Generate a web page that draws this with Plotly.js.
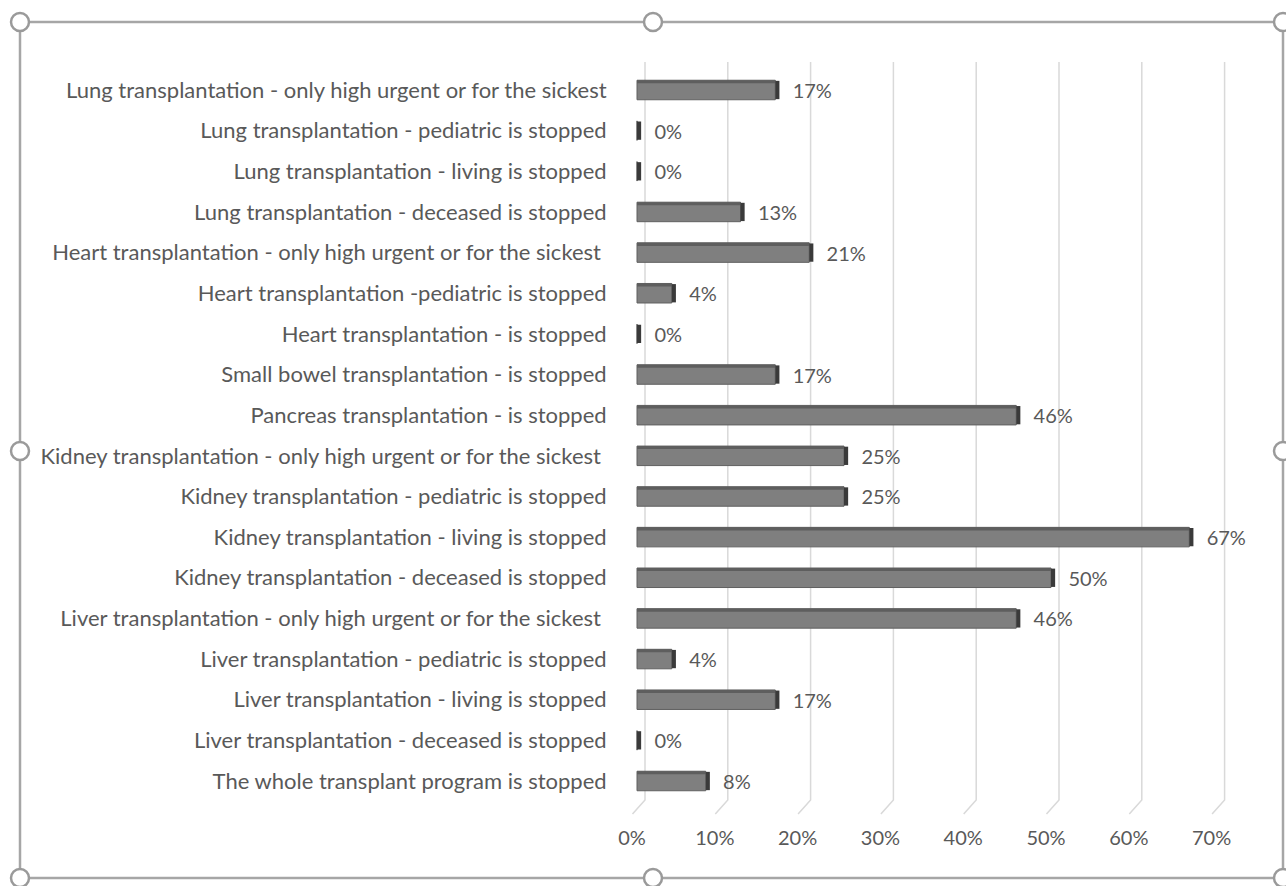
<!DOCTYPE html>
<html>
<head>
<meta charset="utf-8">
<script src="https://cdn.plot.ly/plotly-3.0.1.min.js"></script>
<style>html,body{margin:0;padding:0;background:#fff;}#chart{width:1286px;height:886px;}</style>
</head>
<body>
<div id="chart"></div>
<script>
// ---- data (top row first) ----
const categories = [
  "Lung transplantation - only high urgent or for the sickest",
  "Lung transplantation - pediatric is stopped",
  "Lung transplantation - living is stopped",
  "Lung transplantation - deceased is stopped",
  "Heart transplantation - only high urgent or for the sickest ",
  "Heart transplantation -pediatric is stopped",
  "Heart transplantation - is stopped",
  "Small bowel transplantation - is stopped",
  "Pancreas transplantation - is stopped",
  "Kidney transplantation - only high urgent or for the sickest ",
  "Kidney transplantation - pediatric is stopped",
  "Kidney transplantation - living is stopped",
  "Kidney transplantation - deceased is stopped",
  "Liver transplantation - only high urgent or for the sickest ",
  "Liver transplantation - pediatric is stopped",
  "Liver transplantation - living is stopped",
  "Liver transplantation - deceased is stopped",
  "The whole transplant program is stopped"
];
const values = [16.7, 0, 0, 12.5, 20.8, 4.2, 0, 16.7, 45.8, 25, 25, 66.7, 50, 45.8, 4.2, 16.7, 0, 8.3];
const valueLabels = ["17%","0%","0%","13%","21%","4%","0%","17%","46%","25%","25%","67%","50%","46%","4%","17%","0%","8%"];
const xTickVals = [0, 10, 20, 30, 40, 50, 60, 70];
const xTickText = ["0%","10%","20%","30%","40%","50%","60%","70%"];

// ---- layout geometry (pixels) ----
const W = 1286, H = 886;
const L = 620, R = 1250, T = 60, B = 822;
const PXU = 8.28;             // pixels per percent
const BAR_ZERO = 637;         // bar front face zero
const GRID_ZERO = 645;        // back wall zero
const ROW_TOP = 90, ROW_BOTTOM = 781;
const span = (R - L) / PXU;
const barMin = -(BAR_ZERO - L) / PXU;
const gridMin = -(GRID_ZERO - L) / PXU;
const S = (ROW_BOTTOM - ROW_TOP) / (categories.length - 1);
const catTop = -(ROW_TOP - T) / S;
const catBottom = (categories.length - 1) + (B - ROW_BOTTOM) / S;

const GRID_TOP = 62, FLOOR_TOP = 800, FLOOR_BOTTOM = 814, SLANT = 12.5 / PXU;
const SIDE = 0.5;
const BAR_W = 0.48, TOP_W = 0.075;

const gx = [], gy = [];
xTickVals.forEach(v => {
  gx.push(v, v, v - SLANT, null);
  gy.push(GRID_TOP, FLOOR_TOP, FLOOR_BOTTOM, null);
});

const fontFam = 'Lato, "Open Sans", sans-serif';
const textCol = '#595959';

const traces = [
  {
    type: 'scatter', mode: 'lines', x: gx, y: gy, xaxis: 'x', yaxis: 'y',
    line: {color: '#d9d9d9', width: 1.5}, hoverinfo: 'skip', showlegend: false, connectgaps: false
  },
  {
    type: 'bar', orientation: 'h', y: categories, x: values, xaxis: 'x2', yaxis: 'y2',
    width: BAR_W, marker: {color: '#7f7f7f', line: {color: '#606060', width: 1}},
    showlegend: false, hoverinfo: 'skip'
  },
  {
    type: 'bar', orientation: 'h', y: categories, x: values, xaxis: 'x2', yaxis: 'y2',
    width: TOP_W, offset: -BAR_W / 2,
    marker: {color: '#5e5e5e', line: {width: 0}},
    showlegend: false, hoverinfo: 'skip'
  },
  {
    type: 'bar', orientation: 'h', y: categories, x: values.map(() => SIDE), base: values,
    xaxis: 'x2', yaxis: 'y2', width: BAR_W - 0.03,
    marker: {color: '#3a3a3a', line: {width: 0}},
    text: valueLabels, texttemplate: '\u00a0\u00a0%{text}', textposition: 'outside', cliponaxis: false,
    textfont: {family: fontFam, size: 20, color: textCol}, constraintext: 'none',
    showlegend: false, hoverinfo: 'skip'
  }
];

function px2x(p) { return (p - L) / (R - L); }
function px2y(p) { return (B - p) / (B - T); }
const frameCol = '#a6a6a6';
const shapes = [];
const fx0 = 20, fx1 = 1283, fy0 = 22, fy1 = 878;
[[fx0, fy0, fx1, fy0], [fx0, fy1, fx1, fy1], [fx0, fy0, fx0, fy1], [fx1, fy0, fx1, fy1]].forEach(s => {
  shapes.push({type: 'line', xref: 'paper', yref: 'paper', x0: px2x(s[0]), y0: px2y(s[1]), x1: px2x(s[2]), y1: px2y(s[3]),
    line: {color: frameCol, width: 2.5}});
});
const handles = [[fx0, fy0], [653, fy0], [fx1, fy0], [fx0, 451], [fx1, 451], [fx0, fy1], [653, fy1], [fx1, fy1]];
const r = 9;
handles.forEach(h => {
  shapes.push({type: 'circle', xref: 'paper', yref: 'paper',
    x0: px2x(h[0] - r), x1: px2x(h[0] + r), y0: px2y(h[1] + r), y1: px2y(h[1] - r),
    fillcolor: '#ffffff', line: {color: '#9a9a9a', width: 2.5}});
});

const layout = {
  width: W, height: H,
  margin: {l: L, r: W - R, t: T, b: H - B, pad: 0},
  paper_bgcolor: '#ffffff', plot_bgcolor: 'rgba(0,0,0,0)',
  barmode: 'overlay',
  font: {family: fontFam, size: 20, color: textCol},
  xaxis: {
    range: [gridMin, gridMin + span], tickvals: xTickVals, ticktext: xTickText,
    ticks: '', ticklabelshift: -13, ticklabelstandoff: 2, showgrid: false, zeroline: false, showline: false,
    tickfont: {family: fontFam, size: 20, color: textCol}, fixedrange: true
  },
  yaxis: {range: [B, T], visible: false, fixedrange: true},
  xaxis2: {overlaying: 'x', range: [barMin, barMin + span], visible: false, fixedrange: true},
  yaxis2: {
    overlaying: 'y', side: 'left', type: 'category', categoryorder: 'array', categoryarray: categories,
    range: [catBottom, catTop], ticks: 'outside', ticklen: 8, tickcolor: 'rgba(0,0,0,0)',
    showgrid: false, zeroline: false, showline: false,
    tickfont: {family: fontFam, size: 22, color: textCol}, fixedrange: true
  },
  shapes: shapes,
  showlegend: false
};

Plotly.newPlot('chart', traces, layout, {displayModeBar: false, staticPlot: true});
</script>
</body>
</html>
